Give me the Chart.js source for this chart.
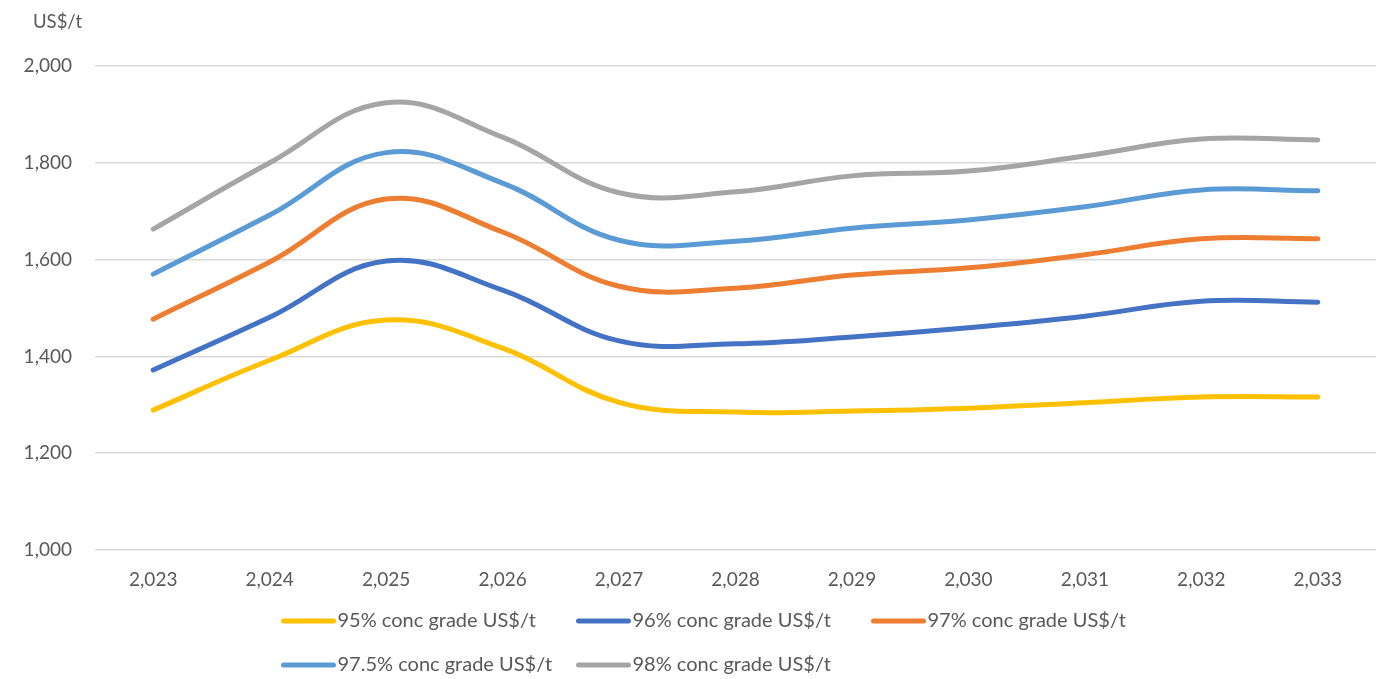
<!DOCTYPE html>
<html>
<head>
<meta charset="utf-8">
<script src="https://cdn.jsdelivr.net/npm/chart.js@4.4.0/dist/chart.umd.min.js"></script>
<style>
  html, body { margin: 0; padding: 0; background: #fff; }
  #wrap { width: 1383px; height: 679px; position: relative; }
</style>
</head>
<body>
<div id="wrap"><canvas id="priceChart"></canvas></div>
<script>
const years = ['2,023', '2,024', '2,025', '2,026', '2,027', '2,028', '2,029', '2,030', '2,031', '2,032', '2,033'];

const grade95 = [1289, 1392, 1475, 1417, 1305, 1285, 1287, 1293, 1304, 1316, 1316];
const grade96 = [1372, 1481, 1597, 1537, 1432, 1426, 1440, 1459, 1483, 1514, 1512];
const grade97 = [1477, 1595, 1725, 1657, 1545, 1541, 1568, 1583, 1610, 1643, 1643];
const grade975 = [1570, 1692, 1821, 1758, 1640, 1638, 1665, 1682, 1709, 1744, 1742];
const grade98 = [1663, 1800, 1924, 1853, 1738, 1740, 1773, 1783, 1814, 1849, 1847];

const seriesNames = ['95% conc grade US$/t', '96% conc grade US$/t', '97% conc grade US$/t',
                     '97.5% conc grade US$/t', '98% conc grade US$/t'];
const seriesColors = ['#FFC000', '#4472C4', '#ED7D31', '#5B9BD5', '#A5A5A5'];

const yTicks = [1000, 1200, 1400, 1600, 1800, 2000];

const FONT = 'Lato, "Open Sans", sans-serif';
const TEXT = '#595959';

// legend laid out in a grid like the spreadsheet one
const gridLegend = {
    id: 'gridLegend',
    afterDraw(chart) {
        const ctx = chart.ctx;
        const colW = 295;
        const rowY = [621, 665];
        const startX = chart.width / 2 - 408;
        ctx.save();
        ctx.font = '20px ' + FONT;
        ctx.textBaseline = 'middle';
        chart.data.datasets.forEach((ds, i) => {
            const x = startX + (i % 3) * colW;
            const y = rowY[Math.floor(i / 3)];
            ctx.strokeStyle = ds.borderColor;
            ctx.lineWidth = 5;
            ctx.lineCap = 'round';
            ctx.beginPath();
            ctx.moveTo(x, y);
            ctx.lineTo(x + 50, y);
            ctx.stroke();
            ctx.fillStyle = TEXT;
            ctx.fillText(ds.label, x + 54, y);
        });
        // unit label
        ctx.font = '18.5px ' + FONT;
        ctx.fillText('US$/t', 33, 22);
        ctx.restore();
    }
};

const datasets = [grade95, grade96, grade97, grade975, grade98].map((vals, i) => ({
    label: seriesNames[i],
    data: vals,
    borderColor: seriesColors[i],
    backgroundColor: seriesColors[i],
    borderWidth: 5,
    borderCapStyle: 'round',
    pointRadius: 0,
    tension: 0.4,
    fill: false
}));

new Chart(document.getElementById('priceChart'), {
    type: 'line',
    data: { labels: years, datasets: datasets },
    options: {
        responsive: true,
        maintainAspectRatio: false,
        animation: false,
        layout: { padding: { top: 66, right: 7, bottom: 79, left: 0 } },
        plugins: {
            legend: { display: false },
            tooltip: { enabled: false }
        },
        scales: {
            x: {
                offset: true,
                grid: { display: false, drawTicks: false },
                border: { display: false },
                ticks: { color: TEXT, font: { family: FONT, size: 19 }, padding: 18, maxRotation: 0 },
                afterFit: s => { s.height = 50; }
            },
            y: {
                min: 1000,
                max: 2000,
                afterBuildTicks: s => { s.ticks = yTicks.map(v => ({ value: v })); },
                grid: { color: '#D9D9D9', lineWidth: 1.5, drawTicks: false },
                border: { display: false },
                ticks: {
                    color: TEXT,
                    font: { family: FONT, size: 19 },
                    padding: 23,
                    callback: v => v.toLocaleString('en-US')
                },
                afterFit: s => { s.width = 95; }
            }
        }
    },
    plugins: [gridLegend]
});
</script>
</body>
</html>
